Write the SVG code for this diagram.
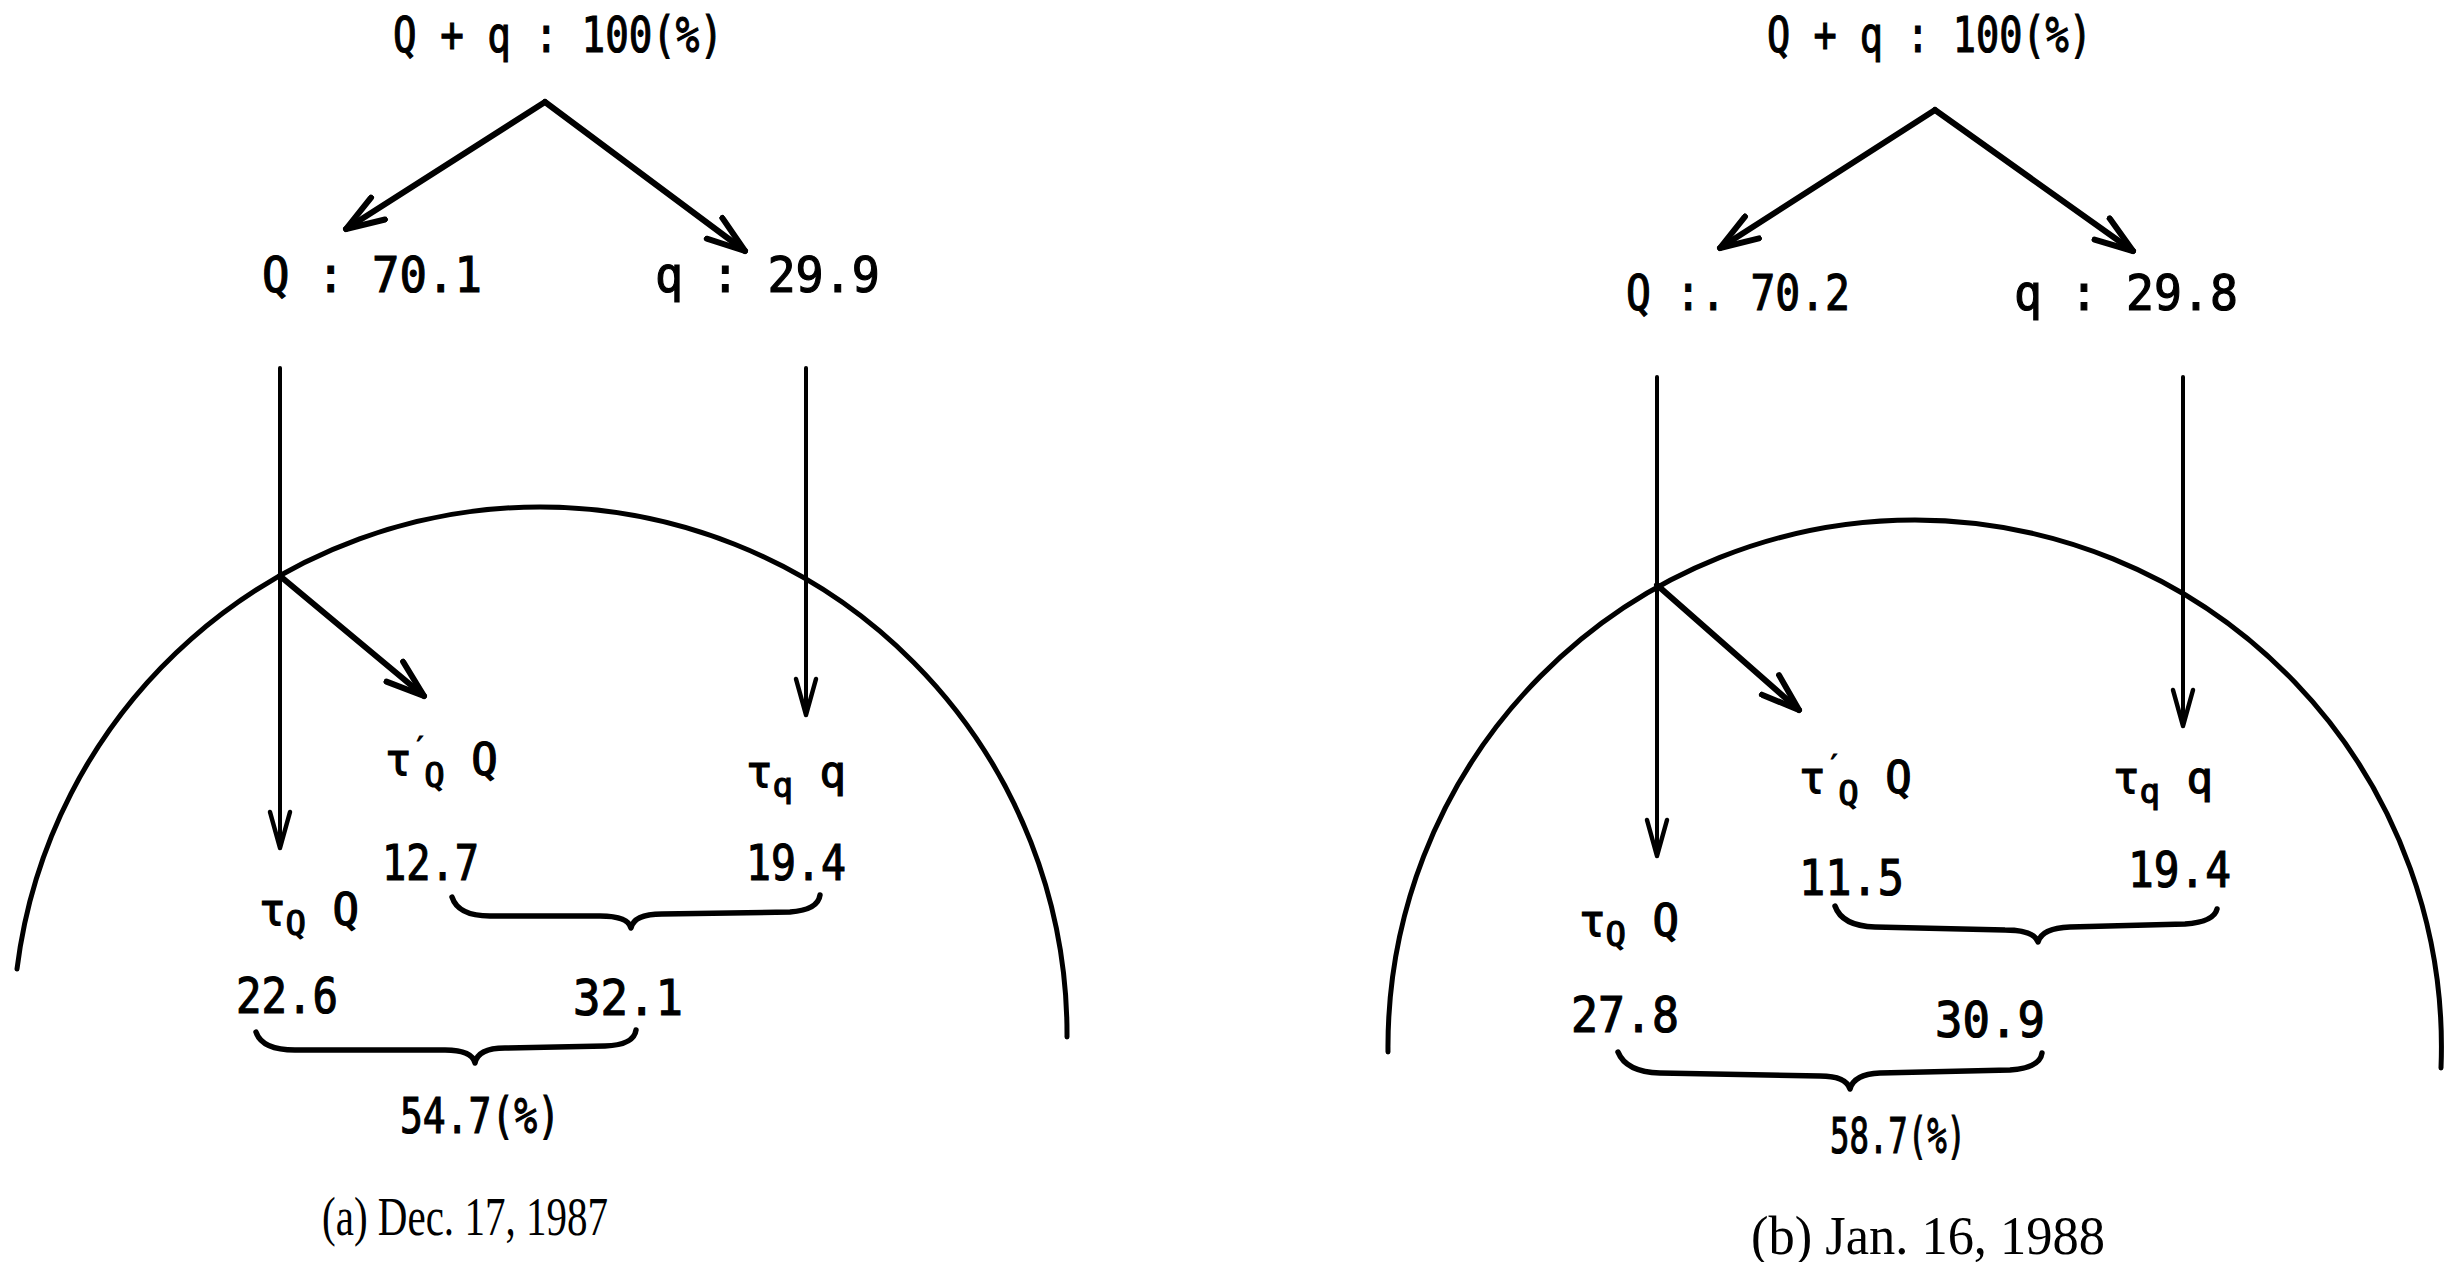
<svg xmlns="http://www.w3.org/2000/svg" width="2463" height="1262" viewBox="0 0 2463 1262">
<defs>
<style>
.t{font-family:"DejaVu Sans Mono","Liberation Mono",monospace;font-size:50px;fill:#000;stroke:#000;stroke-width:1.2}
.s{font-family:"DejaVu Sans Mono","Liberation Mono",monospace;font-size:44px;fill:#000;stroke:#000;stroke-width:1.2}
.cap{font-family:"Liberation Serif","DejaVu Serif",serif;font-size:54px;fill:#000}
.ln{stroke:#000;fill:none;stroke-linecap:round;stroke-linejoin:round}
.thick{stroke-width:6}
.thin{stroke-width:4}
.arc{stroke-width:5}
.brace{stroke-width:5.5}
</style>
<marker id="ahBig" viewBox="0 0 44 32" refX="41" refY="16" markerWidth="44" markerHeight="32" markerUnits="userSpaceOnUse" orient="auto">
<path d="M3,3 L41,16 L3,29" fill="none" stroke="#000" stroke-width="6" stroke-linecap="round" stroke-linejoin="round"/>
</marker>
<marker id="ahV" viewBox="0 0 42 26" refX="39" refY="13" markerWidth="42" markerHeight="26" markerUnits="userSpaceOnUse" orient="auto">
<path d="M3,3 L39,13 L3,23" fill="none" stroke="#000" stroke-width="4.5" stroke-linecap="round" stroke-linejoin="round"/>
</marker>
</defs>
<rect width="2463" height="1262" fill="#fff"/>

<g id="connectors">
<!-- panel a -->
<path class="ln thick" d="M545,102 L346,229" marker-end="url(#ahBig)"/>
<path class="ln thick" d="M545,102 L745,251" marker-end="url(#ahBig)"/>
<path class="ln thin" d="M280,368 L280,848" marker-end="url(#ahV)"/>
<path class="ln thin" d="M806,368 L806,715" marker-end="url(#ahV)"/>
<path class="ln thick" d="M280,576 L424,696" marker-end="url(#ahBig)"/>
<!-- panel b -->
<path class="ln thick" d="M1935,110 L1720,248" marker-end="url(#ahBig)"/>
<path class="ln thick" d="M1935,110 L2133,251" marker-end="url(#ahBig)"/>
<path class="ln thin" d="M1657,377 L1657,856" marker-end="url(#ahV)"/>
<path class="ln thin" d="M2183,377 L2183,726" marker-end="url(#ahV)"/>
<path class="ln thick" d="M1657,585 L1799,710" marker-end="url(#ahBig)"/>
</g>

<g id="arc-a"><path class="ln arc" d="M17,969 A527,527 0 0 1 540,507 A527,527 0 0 1 1067,1037"/></g>
<g id="arc-b"><path class="ln arc" d="M1388,1052 A527,527 0 0 1 1915,520 A527,527 0 0 1 2441,1068"/></g>

<g id="brace-a1"><path class="ln brace" d="M452,897 Q458,916 490,916 L600,916 Q628,916 631,928 Q634,914 662,914 L790,912 Q818,910 820,895"/></g>
<g id="brace-a2"><path class="ln brace" d="M256,1032 Q262,1050 295,1050 L445,1050 Q472,1050 475,1063 Q478,1048 505,1048 L605,1046 Q634,1045 636,1030"/></g>
<g id="brace-b1"><path class="ln brace" d="M1835,906 Q1842,926 1875,927 L2005,930 Q2034,930 2038,942 Q2042,928 2070,927 L2185,924 Q2214,922 2217,909"/></g>
<g id="brace-b2"><path class="ln brace" d="M1618,1052 Q1626,1072 1660,1073 L1820,1076 Q1846,1076 1850,1089 Q1854,1074 1880,1073 L2010,1070 Q2040,1068 2042,1053"/></g>

<!-- panel a nodes -->
<g id="a-total"><text class="t" x="393" y="52" textLength="330" lengthAdjust="spacingAndGlyphs">Q + q : 100(%)</text></g>
<g id="a-Q"><text class="t" x="262" y="292" textLength="220" lengthAdjust="spacingAndGlyphs">Q : 70.1</text></g>
<g id="a-q"><text class="t" x="655" y="292" textLength="225" lengthAdjust="spacingAndGlyphs">q : 29.9</text></g>
<g id="a-tauQprime"><text class="s" x="385" y="775">τ<tspan font-size="28" dy="-18">′</tspan><tspan font-size="34" dx="-4" dy="30">Q</tspan><tspan dy="-12"> Q</tspan></text></g>
<g id="a-tauq"><text class="s" x="746" y="787">τ<tspan font-size="34" dy="10">q</tspan><tspan dy="-10"> q</tspan></text></g>
<g id="a-v1"><text class="t" x="382" y="880" textLength="97" lengthAdjust="spacingAndGlyphs">12.7</text></g>
<g id="a-v2"><text class="t" x="746" y="880" textLength="100" lengthAdjust="spacingAndGlyphs">19.4</text></g>
<g id="a-tauQ"><text class="s" x="259" y="925">τ<tspan font-size="34" dy="10">Q</tspan><tspan dy="-10"> Q</tspan></text></g>
<g id="a-v3"><text class="t" x="236" y="1013" textLength="102" lengthAdjust="spacingAndGlyphs">22.6</text></g>
<g id="a-v4"><text class="t" x="573" y="1015" textLength="110" lengthAdjust="spacingAndGlyphs">32.1</text></g>
<g id="a-sum"><text class="t" x="400" y="1133" font-size="54" textLength="160" lengthAdjust="spacingAndGlyphs">54.7(%)</text></g>
<g id="a-caption"><text class="cap" x="322" y="1235" textLength="286" lengthAdjust="spacingAndGlyphs">(a) Dec. 17, 1987</text></g>

<!-- panel b nodes -->
<g id="b-total"><text class="t" x="1767" y="52" textLength="325" lengthAdjust="spacingAndGlyphs">Q + q : 100(%)</text></g>
<g id="b-Q"><text class="t" x="1626" y="310" textLength="224" lengthAdjust="spacingAndGlyphs">Q :. 70.2</text></g>
<g id="b-q"><text class="t" x="2014" y="310" textLength="224" lengthAdjust="spacingAndGlyphs">q : 29.8</text></g>
<g id="b-tauQprime"><text class="s" x="1799" y="793">τ<tspan font-size="28" dy="-18">′</tspan><tspan font-size="34" dx="-4" dy="30">Q</tspan><tspan dy="-12"> Q</tspan></text></g>
<g id="b-tauq"><text class="s" x="2113" y="793">τ<tspan font-size="34" dy="10">q</tspan><tspan dy="-10"> q</tspan></text></g>
<g id="b-v1"><text class="t" x="1799" y="895" textLength="105" lengthAdjust="spacingAndGlyphs">11.5</text></g>
<g id="b-v2"><text class="t" x="2128" y="887" textLength="103" lengthAdjust="spacingAndGlyphs">19.4</text></g>
<g id="b-tauQ"><text class="s" x="1579" y="936">τ<tspan font-size="34" dy="10">Q</tspan><tspan dy="-10"> Q</tspan></text></g>
<g id="b-v3"><text class="t" x="1571" y="1032" textLength="108" lengthAdjust="spacingAndGlyphs">27.8</text></g>
<g id="b-v4"><text class="t" x="1935" y="1037" textLength="110" lengthAdjust="spacingAndGlyphs">30.9</text></g>
<g id="b-sum"><text class="t" x="1830" y="1153" font-size="54" textLength="136" lengthAdjust="spacingAndGlyphs">58.7(%)</text></g>
<g id="b-caption"><text class="cap" x="1751" y="1254" textLength="354" lengthAdjust="spacingAndGlyphs">(b) Jan. 16, 1988</text></g>
</svg>
